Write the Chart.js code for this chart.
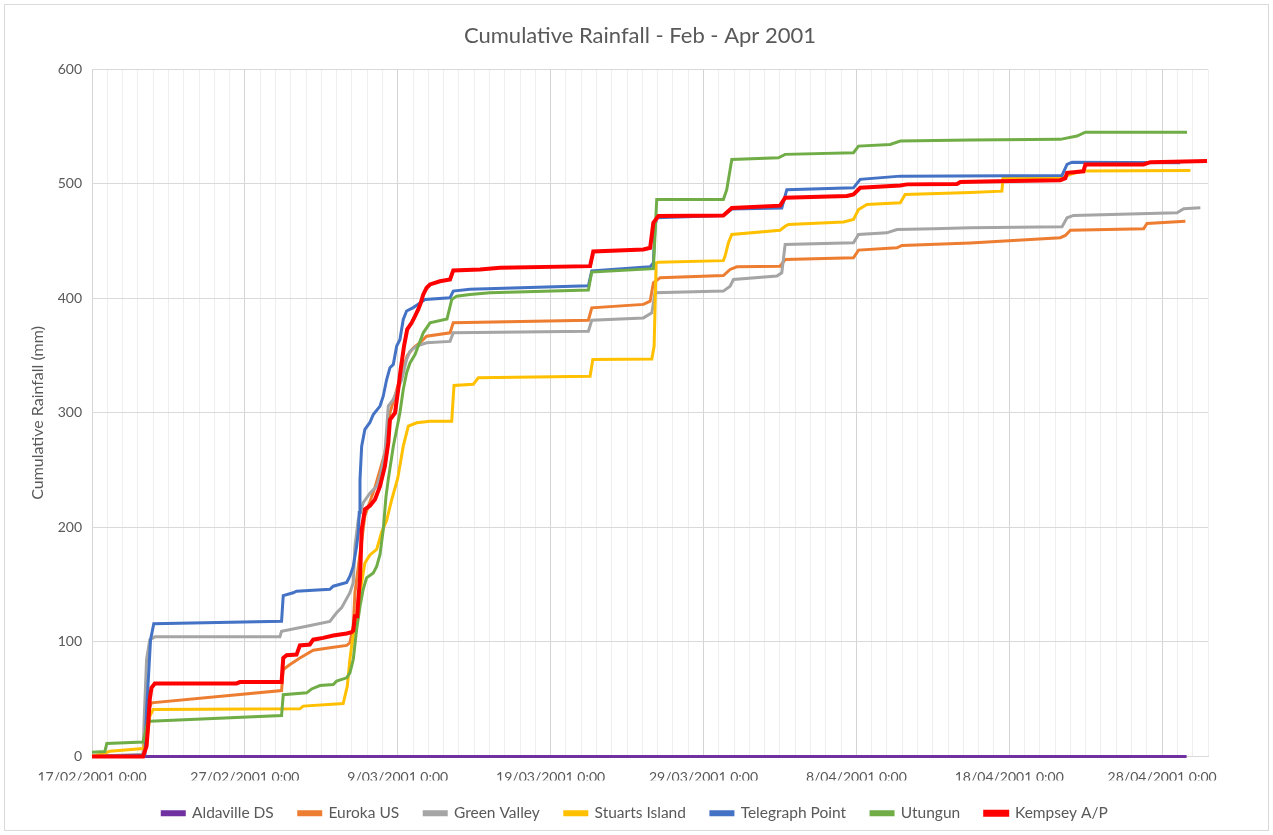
<!DOCTYPE html>
<html>
<head>
<meta charset="utf-8">
<title>Cumulative Rainfall - Feb - Apr 2001</title>
<script src="https://cdn.jsdelivr.net/npm/chart.js@4.4.1/dist/chart.umd.min.js"></script>
<style>
  html, body { margin: 0; padding: 0; background: #fff; }
  #wrap { width: 1273px; height: 835px; position: relative; }
</style>
</head>
<body>
<div id="wrap"><canvas id="rain" width="1273" height="835"></canvas></div>
<script>
// x = days since 17/02/2001 0:00, y = cumulative rainfall (mm)
const aldaville = [[0, 0], [71.6, 0]];

const euroka = [[0, 0], [3.34, 1], [3.57, 35], [3.89, 46.9], [12.4, 57.6], [12.51, 76], [12.95, 80.3], [13.6, 86],
  [14.47, 92.8], [15.56, 94.9], [16.66, 97], [16.87, 99.3], [17.09, 113.8], [17.2, 143], [17.85, 210], [18.51, 235],
  [19.16, 265], [19.49, 300], [20.14, 330], [20.62, 350], [21.01, 356.7], [21.45, 361.3], [21.89, 367], [23.42, 370],
  [23.63, 378.7], [32.47, 381], [32.69, 391.8], [36.07, 394.8], [36.51, 397.6], [36.72, 413.7], [37.16, 418],
  [41.3, 420], [41.74, 425.3], [42.18, 427.6], [45.01, 428.2], [45.34, 434], [49.81, 435.5], [50.14, 442.2],
  [52.65, 444.2], [52.98, 446.3], [57.45, 448.5], [63.34, 453], [63.67, 455], [64.0, 459.6], [68.79, 460.8],
  [69.01, 465.5], [71.52, 467.5]];

const greenValley = [[0, 0], [3.34, 2], [3.42, 35], [3.57, 84.7], [3.78, 102], [4.11, 104.5], [12.29, 104.5],
  [12.4, 109.4], [14.04, 113.8], [15.56, 118], [16.0, 125.5], [16.33, 130], [16.87, 143], [17.09, 151.7],
  [17.2, 183.7], [17.42, 207], [17.74, 221.6], [18.18, 230], [18.62, 236], [18.84, 244.8], [19.16, 265],
  [19.38, 306], [19.71, 311.8], [20.26, 329], [20.58, 346.7], [20.8, 354], [21.24, 358.4], [21.89, 361.3],
  [23.42, 362.5], [23.63, 370], [32.47, 371.4], [32.69, 381], [36.07, 383], [36.62, 387.4], [36.83, 405],
  [41.3, 406.4], [41.74, 410.7], [41.96, 416.6], [44.8, 419.5], [45.12, 422.4], [45.34, 447.2], [49.81, 448.6],
  [50.14, 455.9], [51.99, 457.3], [52.65, 460.2], [55.05, 460.8], [57.45, 461.7], [63.45, 462.5], [63.78, 470.4],
  [64.21, 472.5], [70.98, 474.8], [71.41, 478.3], [72.5, 479.1]];

const stuartsIsland = [[0, 0], [0.84, 3], [1.16, 4.5], [3.34, 7], [3.65, 20], [3.78, 35], [4.0, 41], [13.6, 41.6],
  [13.82, 44], [16.43, 46.3], [16.7, 61.4], [16.87, 84.7], [16.98, 96.3], [17.26, 119.6], [17.53, 143],
  [17.85, 169], [18.18, 176], [18.62, 180.8], [18.95, 196], [19.27, 206], [19.6, 224], [20.0, 243], [20.36, 271],
  [20.69, 288.5], [21.24, 291.4], [22.11, 292.8], [23.53, 292.8], [23.68, 324], [24.94, 325], [25.27, 330.7],
  [32.58, 332], [32.76, 346.7], [36.62, 347.2], [36.77, 358.4], [36.9, 431], [37.05, 431.7], [41.3, 433],
  [41.41, 437], [41.63, 448.6], [41.85, 455.9], [45.01, 459.6], [45.34, 463], [45.56, 464.6], [49.16, 466.7],
  [49.81, 469], [50.14, 477.7], [50.69, 482], [52.87, 483.5], [53.19, 490.8], [57.45, 492.5], [59.52, 493.7],
  [59.59, 505.4], [63.45, 505.4], [64.0, 508.3], [64.76, 511.2], [71.85, 511.8]];

const telegraphPoint = [[0, 0], [3.46, 1], [3.57, 40], [3.83, 102], [4.04, 116], [12.4, 118], [12.51, 140.5],
  [13.16, 143], [13.38, 144.4], [15.56, 146], [15.78, 148.7], [16.66, 152], [16.87, 157.5], [17.09, 166],
  [17.31, 183.6], [17.42, 195.6], [17.48, 213], [17.53, 242], [17.64, 271], [17.85, 285.6], [18.18, 291.7],
  [18.4, 298.7], [18.84, 306], [19.05, 314.6], [19.27, 329], [19.49, 339.5], [19.71, 342.4], [19.93, 358.4],
  [20.14, 364], [20.36, 381.6], [20.58, 389], [21.01, 392], [21.34, 395], [21.78, 399], [23.42, 400.6],
  [23.63, 406.4], [24.72, 408], [32.47, 411], [32.69, 424], [36.51, 427.7], [36.72, 431], [36.83, 463],
  [36.94, 470.4], [41.3, 472.5], [41.85, 478], [45.12, 479], [45.45, 495], [49.81, 496.6], [50.25, 504],
  [52.87, 506.8], [63.45, 507.4], [63.78, 517], [64.11, 519], [71.19, 518.4]];

const utungun = [[0, 3.7], [0.84, 4.4], [0.97, 11.4], [3.34, 12.7], [3.46, 19], [3.65, 30.6], [3.78, 30.8],
  [12.4, 35.8], [12.51, 54], [14.04, 55.6], [14.37, 59], [14.91, 62], [15.78, 62.9], [16.0, 65.8], [16.66, 68.7],
  [16.87, 73], [17.09, 84.7], [17.31, 111], [17.53, 131], [17.74, 146], [17.96, 156], [18.4, 160.3], [18.62, 166],
  [18.84, 176.4], [19.05, 198], [19.23, 227], [19.38, 242], [19.71, 271], [20.14, 300], [20.36, 320.5],
  [20.58, 335], [20.8, 343.7], [21.13, 351], [21.67, 370], [22.11, 378.7], [23.22, 382], [23.53, 399],
  [23.85, 402], [24.72, 403.5], [26.03, 405], [32.47, 407.3], [32.69, 423], [36.72, 426], [36.94, 486.5],
  [41.3, 486.5], [41.52, 495], [41.85, 521.4], [44.9, 522.8], [45.34, 525.8], [49.81, 527.2], [50.14, 533],
  [52.21, 534.5], [52.87, 537.4], [57.45, 538.3], [63.34, 538.9], [64.43, 541.8], [64.98, 545.2], [71.63, 545.2]];

const kempsey = [[0, 0], [3.34, 0], [3.57, 9], [3.67, 26.5], [3.78, 50], [3.89, 60], [4.11, 63.8], [9.46, 63.8],
  [9.67, 65], [12.4, 65], [12.51, 86], [12.73, 88.5], [13.38, 89], [13.6, 97], [14.25, 97.8], [14.47, 102],
  [15.12, 103.6], [15.78, 105.7], [16.66, 107.4], [16.98, 108.6], [17.09, 110], [17.2, 122.5], [17.35, 122.5],
  [17.42, 137], [17.53, 154.6], [17.64, 198], [17.85, 215.7], [18.18, 219], [18.51, 224.4], [18.84, 236],
  [19.16, 253.5], [19.38, 274], [19.49, 294], [19.82, 300], [20.03, 320.5], [20.19, 338], [20.41, 358.4],
  [20.62, 373], [20.91, 378.7], [21.13, 384.5], [21.34, 390.4], [21.5, 396], [21.67, 403.5], [21.89, 409.3],
  [22.11, 412.2], [22.76, 415], [23.42, 416.6], [23.63, 424.5], [25.38, 425.3], [26.69, 426.8], [32.58, 428.2],
  [32.79, 441], [36.07, 442.8], [36.51, 444.2], [36.72, 466], [37.05, 471.9], [41.3, 472.5], [41.85, 479],
  [45.01, 481], [45.34, 488], [49.38, 489.4], [49.81, 490.8], [50.25, 496.6], [52.87, 498.7], [53.31, 499.6],
  [56.58, 500], [56.8, 501.6], [59.19, 502.4], [63.34, 503.3], [63.67, 505], [63.78, 509.7], [64.21, 510.2],
  [64.85, 511], [64.98, 517], [68.79, 517], [69.23, 519], [72.94, 520]];

const stationNames = ['Aldaville DS', 'Euroka US', 'Green Valley', 'Stuarts Island', 'Telegraph Point', 'Utungun', 'Kempsey A/P'];
const stationColors = ['#7030A0', '#ED7D31', '#A5A5A5', '#FFC000', '#4472C4', '#70AD47', '#FF0000'];
const stationData = [aldaville, euroka, greenValley, stuartsIsland, telegraphPoint, utungun, kempsey];

const axisDays = 73;     // 17/02/2001 .. 1/05/2001
const labelEvery = 10;   // labelled gridline every 10 days
const yMax = 600;
const yStep = 100;

const textColor = '#595959';
const fontFamily = 'Lato, "Open Sans", sans-serif';

function dayLabel(v) {
    const d = new Date(2001, 1, 17 + v);
    const mm = String(d.getMonth() + 1).padStart(2, '0');
    return d.getDate() + '/' + mm + '/' + d.getFullYear() + ' 0:00';
}

const datasets = stationNames.map((name, i) => ({
    label: name,
    data: stationData[i].map(p => ({ x: p[0], y: p[1] })),
    borderColor: stationColors[i],
    backgroundColor: stationColors[i],
    borderWidth: name === 'Kempsey A/P' ? 4 : 3,
    pointRadius: 0,
    tension: 0,
    fill: false,
    clip: 4,
    order: stationNames.length - i // later series drawn on top, like the original
}));

// white background + thin outer frame; title and legend centred on the whole chart box
const frame = {
    id: 'frame',
    afterLayout(chart) {
        chart.titleBlock.left += 25;
        chart.titleBlock.right += 25;
        chart.legend.left += 20;
        chart.legend.right += 20;
    },
    beforeDraw(chart) {
        const c = chart.ctx;
        c.save();
        c.fillStyle = '#fff';
        c.fillRect(0, 0, chart.width, chart.height);
        c.strokeStyle = '#d9d9d9';
        c.lineWidth = 1;
        c.strokeRect(4.5, 4.5, chart.width - 9, chart.height - 9);
        c.restore();
    }
};

const chart = new Chart(document.getElementById('rain'), {
    type: 'line',
    data: { datasets: datasets },
    plugins: [frame],
    options: {
        responsive: false,
        animation: false,
        devicePixelRatio: 1,
        layout: { padding: { left: 22, right: 65, top: 12, bottom: 4 } },
        plugins: {
            title: {
                display: true,
                text: 'Cumulative Rainfall - Feb - Apr 2001',
                color: textColor,
                font: { family: fontFamily, size: 22, weight: 'normal' },
                padding: { top: 11, bottom: 20 }
            },
            legend: {
                position: 'bottom',
                labels: {
                    color: textColor,
                    font: { family: fontFamily, size: 15.5 },
                    boxWidth: 22,
                    boxHeight: 3,
                    padding: 25,
                    sort: (a, b) => a.datasetIndex - b.datasetIndex
                }
            },
            tooltip: { enabled: false }
        },
        scales: {
            x: {
                type: 'linear',
                min: 0,
                max: axisDays,
                afterFit: s => { s.height = 24; },
                ticks: {
                    stepSize: 1,
                    autoSkip: false,
                    maxRotation: 0,
                    minRotation: 0,
                    padding: 13,
                    color: textColor,
                    font: { family: fontFamily, size: 14 },
                    callback: v => (v % labelEvery === 0 ? dayLabel(v) : '')
                },
                grid: {
                    drawTicks: false,
                    color: ctx => (ctx.tick && ctx.tick.value % labelEvery === 0 ? '#d4d4d4' : '#eeeeee')
                },
                border: { color: '#d9d9d9' }
            },
            y: {
                min: 0,
                max: yMax,
                afterFit: s => { s.width = 70; },
                ticks: {
                    stepSize: yStep,
                    padding: 10,
                    color: textColor,
                    font: { family: fontFamily, size: 14 }
                },
                grid: { drawTicks: false, color: '#d9d9d9' },
                border: { display: false },
                title: {
                    display: true,
                    text: 'Cumulative Rainfall (mm)',
                    color: textColor,
                    font: { family: fontFamily, size: 16 },
                    padding: { top: 6, bottom: 4 }
                }
            }
        }
    }
});
</script>
</body>
</html>
